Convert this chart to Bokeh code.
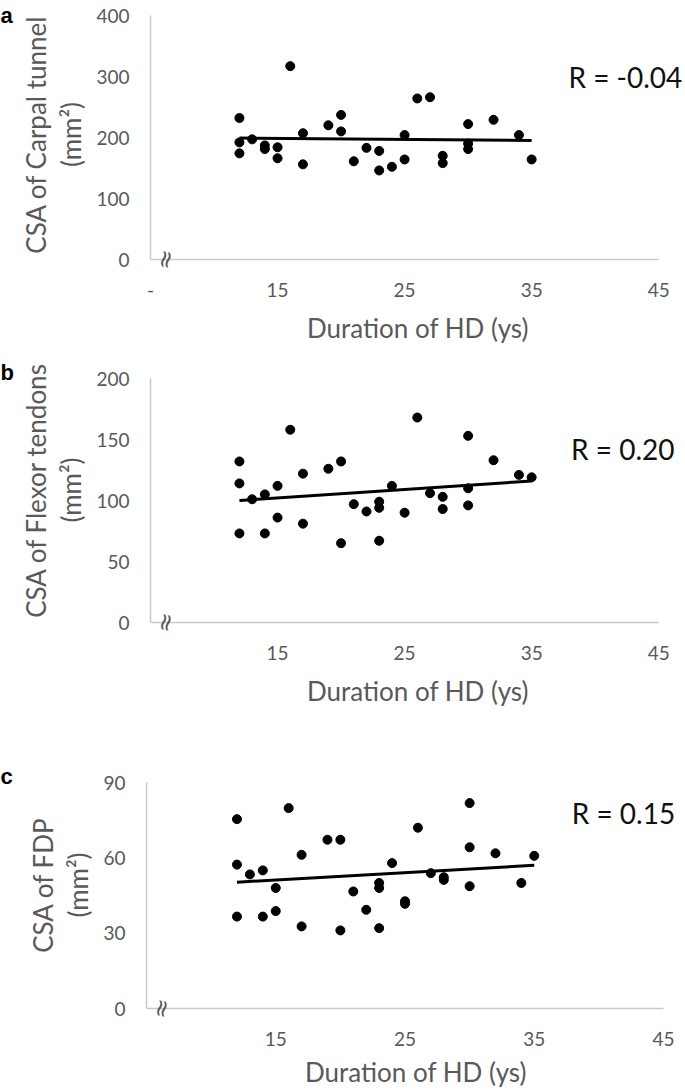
from bokeh.plotting import figure
from bokeh.models import FixedTicker, LinearAxis, Label, Range1d
from bokeh.layouts import column, row
from bokeh.embed import file_html
from bokeh.resources import INLINE
from bokeh.core.properties import value

# ---------------- data ----------------
duration_a = [12, 12, 12, 13, 14, 14, 15, 15, 16, 17, 17, 19, 20, 20, 21, 22, 23, 23, 24, 25, 25,
              26, 27, 28, 28, 30, 30, 30, 32, 34, 35]
csa_carpal = [232, 192, 174, 197, 187, 181, 184, 166, 317, 207, 156, 220, 237, 210, 161, 183, 178,
              146, 152, 204, 164, 264, 266, 170, 158, 222, 190, 181, 229, 204, 164]

duration_b = [12, 12, 12, 13, 14, 14, 15, 15, 16, 17, 17, 19, 20, 20, 21, 22, 23, 23, 23, 24, 25,
              26, 27, 28, 28, 30, 30, 30, 32, 34, 35]
csa_flexor = [132, 114, 73, 101, 105, 73, 112, 86, 158, 122, 81, 126, 132, 65, 97, 91, 99, 94, 67,
              112, 90, 168, 106, 103, 93, 153, 110, 96, 133, 121, 119]

duration_c = [12, 12, 12, 13, 14, 14, 15, 15, 16, 17, 17, 19, 20, 20, 21, 22, 23, 23, 23, 24, 25,
              25, 26, 27, 28, 28, 30, 30, 30, 32, 34, 35]
csa_fdp = [75.4, 57.3, 36.6, 53.4, 55, 36.6, 48, 38.8, 79.8, 61.2, 32.7, 67.2, 67.2, 31.1, 46.6,
           39.3, 50, 48, 32, 57.9, 42.7, 41.7, 72, 53.9, 52.3, 51.2, 81.8, 64.2, 48.7, 61.8, 50, 60.8]

trend_x = [12, 35]
trend_a = [199, 195]
trend_b = [100, 116]
trend_c = [50.3, 57]

x_ticks = [5, 15, 25, 35, 45]
y_ticks_a = [0, 100, 200, 300, 400]
y_ticks_b = [0, 50, 100, 150, 200]
y_ticks_c = [0, 30, 60, 90]

r_texts = ["R = -0.04", "R = 0.20", "R = 0.15"]
y_titles = ["CSA of Carpal tunnel", "CSA of Flexor tendons", "CSA of FDP"]
unit_title = "(mm\u00b2)"
x_title = "Duration of HD (ys)"
letters = ["a", "b", "c"]

FONT = "Lato"
GRAY = "#595959"
AXIS = "#c9c9c9"
LETTER_W = 16
MAIN_W = 685 - LETTER_W
LEFT = 130          # frame left inside the main figure
EXT = 9             # px of frame below the x axis (room for the break mark)


def letter_fig(letter, h, bottom, baseline_from_top):
    fh = h - bottom
    f = figure(width=LETTER_W, height=h, x_range=Range1d(0, LETTER_W), y_range=Range1d(0, fh),
               output_backend="svg", toolbar_location=None, title=None,
               x_axis_location=None, y_axis_location=None,
               min_border_left=0, min_border_right=0, min_border_top=0,
               min_border_bottom=bottom)
    f.outline_line_color = None
    f.xgrid.visible = False
    f.ygrid.visible = False
    f.text(x=[0], y=[fh - baseline_from_top], text=[letter],
           text_font=value("Liberation Sans"), text_font_style="bold",
           text_font_size="22px", text_color="black",
           text_align="left", text_baseline="alphabetic")
    return f


def panel(xs, ys, trend_y, yticks, ytitle, rtext, r_xy, height, top, frame_h, x_span_px,
          first_label, tick_standoff, title_standoff):
    frame_w = MAIN_W - LEFT
    px_per_x = x_span_px / (x_ticks[-1] - x_ticks[0])
    x_end = x_ticks[0] + frame_w / px_per_x
    px_per_y = frame_h / (yticks[-1] - yticks[0])
    y_start = yticks[0] - EXT / px_per_y
    y_end = yticks[-1] + top / px_per_y
    bottom = height - top - frame_h - EXT

    p = figure(width=MAIN_W, height=height, x_range=Range1d(x_ticks[0], x_end),
               y_range=Range1d(y_start, y_end), title=None,
               output_backend="svg", toolbar_location=None,
               min_border_left=LEFT, min_border_right=0,
               min_border_top=0, min_border_bottom=bottom)
    p.outline_line_color = None
    p.xgrid.visible = False
    p.ygrid.visible = False
    p.background_fill_color = "white"
    p.border_fill_color = "white"

    for ax in (p.xaxis[0], p.yaxis[0]):
        ax.axis_line_color = AXIS
        ax.axis_line_width = 1.5
        ax.major_tick_line_color = None
        ax.minor_tick_line_color = None
        ax.major_tick_out = 0
        ax.major_tick_in = 0
        ax.minor_tick_out = 0
        ax.minor_tick_in = 0
        ax.major_label_text_font = FONT
        ax.major_label_text_font_size = "19px"
        ax.major_label_text_color = GRAY
        ax.axis_label_text_font = FONT
        ax.axis_label_text_font_size = "26px"
        ax.axis_label_text_font_style = "normal"
        ax.axis_label_text_color = GRAY

    xa = p.xaxis[0]
    xa.ticker = FixedTicker(ticks=x_ticks)
    xa.major_label_overrides = {5: first_label}
    xa.axis_line_color = None
    xa.major_label_standoff = tick_standoff
    xa.axis_label = x_title
    xa.axis_label_standoff = title_standoff

    ya = p.yaxis[0]
    ya.ticker = FixedTicker(ticks=yticks)
    ya.bounds = (yticks[0], yticks[-1])
    ya.major_label_standoff = 21
    ya.axis_label = unit_title
    ya.axis_label_standoff = 6

    outer = LinearAxis(ticker=FixedTicker(ticks=[]), axis_line_color=None,
                       major_tick_line_color=None, minor_tick_line_color=None,
                       major_tick_out=0, minor_tick_out=0, major_label_standoff=0,
                       axis_label=ytitle, axis_label_standoff=1,
                       axis_label_text_font=FONT, axis_label_text_font_size="26px",
                       axis_label_text_font_style="normal", axis_label_text_color=GRAY)
    p.add_layout(outer, "left")

    # x axis line at y = 0 from the first to the last tick
    p.segment(x0=[x_ticks[0]], y0=[yticks[0]], x1=[x_ticks[-1]], y1=[yticks[0]],
              line_color=AXIS, line_width=1.5)

    p.line(trend_x, trend_y, line_color="black", line_width=3)
    p.scatter(xs, ys, size=9, fill_color="black", line_color="black")

    p.add_layout(Label(x=r_xy[0], y=r_xy[1], text=rtext, text_font=FONT,
                       text_font_size="28px", text_color="#111111",
                       text_align="left", text_baseline="middle"))
    # axis-break mark
    p.add_layout(Label(x=15, y=EXT, x_units="screen", y_units="screen", text="\u2248",
                       angle=1.35, text_font="DejaVu Sans", text_font_size="24px",
                       text_color=GRAY, text_align="center", text_baseline="middle"))
    return p, bottom


H_A, H_B, H_C = 348, 404, 338

pa, ba = panel(duration_a, csa_carpal, trend_a, y_ticks_a, y_titles[0], r_texts[0], (37.9, 300),
               H_A, 15, 244, 512, "-", 14, 12)
pb, bb = panel(duration_b, csa_flexor, trend_b, y_ticks_b, y_titles[1], r_texts[1], (38.1, 142.6),
               H_B, 30, 244, 512, "", 14, 12)
pc, bc = panel(duration_c, csa_fdp, trend_c, y_ticks_c, y_titles[2], r_texts[2], (37.9, 78),
               H_C, 30, 226, 517, "", 14, 7)

la = letter_fig(letters[0], H_A, ba, 15)
lb = letter_fig(letters[1], H_B, bb, 24)
lc = letter_fig(letters[2], H_C, bc, 24)

layout = column(row(la, pa), row(lb, pb), row(lc, pc))
open("out.html", "w").write(file_html(layout, INLINE))
